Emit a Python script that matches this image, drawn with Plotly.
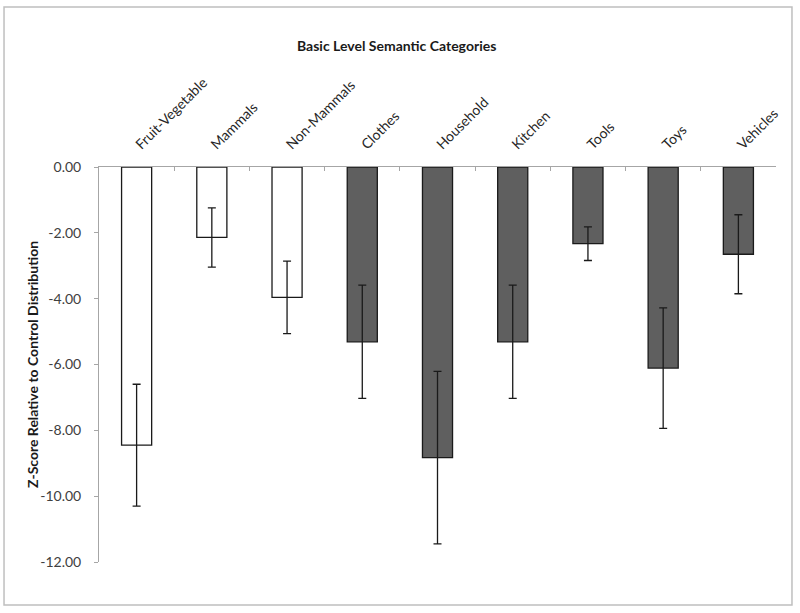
import plotly.graph_objects as go

# basic level semantic categories, z-scores vs control distribution
categories = ["Fruit-Vegetable", "Mammals", "Non-Mammals", "Clothes", "Household",
              "Kitchen", "Tools", "Toys", "Vehicles"]
zscores = [-8.45, -2.14, -3.96, -5.31, -8.83, -5.31, -2.33, -6.11, -2.65]
errors = [1.85, 0.90, 1.10, 1.72, 2.62, 1.72, 0.51, 1.83, 1.20]
living = [True, True, True, False, False, False, False, False, False]

y_ticks = [0, -2, -4, -6, -8, -10, -12]
y_labels = ["0.00", "-2.00", "-4.00", "-6.00", "-8.00", "-10.00", "-12.00"]

fills = ["white" if v else "#5f5f5f" for v in living]

fig = go.Figure()
fig.add_trace(go.Bar(
    x=categories, y=zscores, width=0.4,
    marker=dict(color=fills, line=dict(color="#1a1a1a", width=1.3)),
    error_y=dict(type="data", array=errors, visible=True,
                 color="#1a1a1a", thickness=1.3, width=4),
))

fig.update_layout(
    width=800, height=613,
    margin=dict(l=99, r=24, t=167, b=51),
    paper_bgcolor="white", plot_bgcolor="white",
    font=dict(family="Lato, Open Sans, sans-serif", color="#262626"),
    showlegend=False,
    xaxis=dict(side="top", tickangle=-45, showline=True, linecolor="#a6a6a6",
               linewidth=1, ticks="inside", tickson="boundaries", ticklen=4,
               tickcolor="#a6a6a6", tickfont=dict(size=14, color="#262626"),
               ticklabelstandoff=8, showgrid=False, zeroline=False),
    yaxis=dict(range=[-12, 0], tickvals=y_ticks, ticktext=y_labels, showline=True,
               linecolor="#a6a6a6", linewidth=1, ticks="outside", ticklen=4,
               tickcolor="#a6a6a6", tickfont=dict(size=14, color="#404040"),
               ticklabelstandoff=10, showgrid=False, zeroline=False),
    annotations=[
        dict(text="<b>Basic Level Semantic Categories</b>", xref="paper", yref="paper",
             x=0.44, y=1.334, showarrow=False, font=dict(size=14, color="#1a1a1a")),
        dict(text="<b>Z-Score Relative to Control Distribution</b>", xref="paper",
             yref="paper", x=-0.1137, y=0.5, textangle=-90, showarrow=False,
             font=dict(size=14, color="#1a1a1a")),
    ],
    shapes=[dict(type="rect", xref="paper", yref="paper", x0=-0.1403, x1=1.0236,
                 y0=-0.1089, y1=1.405, line=dict(color="#bfbfbf", width=1.5))],
)

fig.write_html("out.html", config={"displayModeBar": False},
               post_script="document.body.style.margin='0px';")
